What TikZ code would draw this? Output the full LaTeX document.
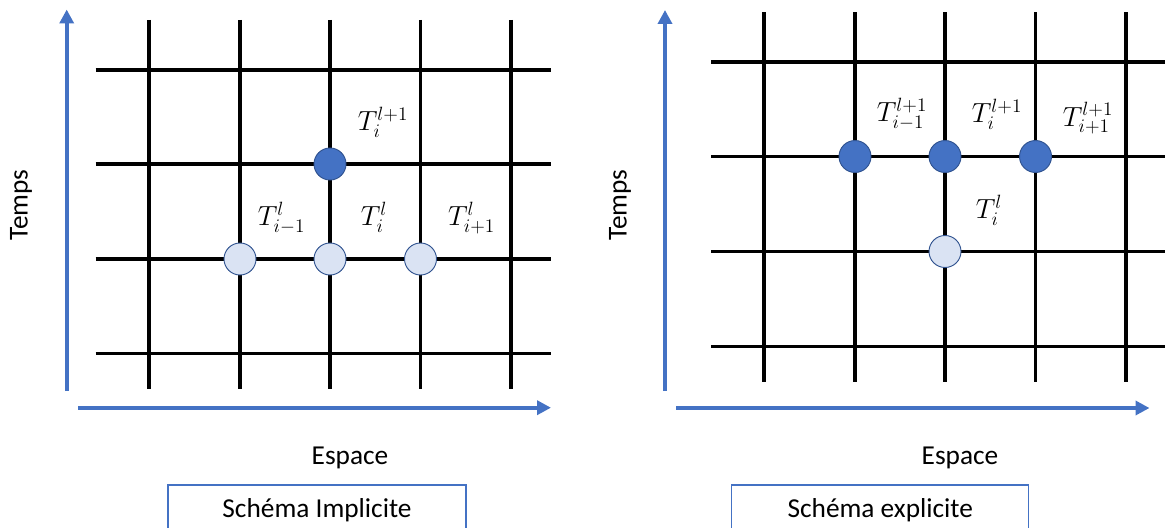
\documentclass[tikz,border=0pt]{standalone}
\usepackage[no-math]{fontspec}
\setmainfont{Carlito}
\usetikzlibrary{arrows.meta}
\definecolor{FdBlue}{RGB}{68,114,196}
\definecolor{FdEdge}{RGB}{47,82,143}
\definecolor{FdPale}{RGB}{218,227,243}
\tikzset{
  fd/grid/.style={draw=black, line width=2.6pt},
  fd/axis/.style={-{Triangle[length=10.5pt,width=10.5pt]}, draw=FdBlue, line width=3.3pt},
  fd/new/.style={circle, draw=FdEdge, line width=0.7pt, fill=FdBlue, minimum size=24pt, inner sep=0pt},
  fd/old/.style={circle, draw=FdEdge, line width=0.7pt, fill=FdPale, minimum size=24pt, inner sep=0pt},
  fd/math/.style={font=\fontsize{22}{26}\selectfont, inner sep=0pt},
  fd/label/.style={font=\fontsize{20.5}{24}\selectfont, inner sep=0pt},
  fd/frame/.style={draw=FdBlue, line width=0.8pt, fill=white, align=center,
    font=\fontsize{20.5}{24}\selectfont, minimum height=37.5pt}
}
\begin{document}
\begin{tikzpicture}[x=0.75pt,y=-0.75pt]
  \useasboundingbox (0,0) rectangle (1165,528);
  \clip (0,0) rectangle (1165,528);
  % implicit scheme
  \draw[fd/grid] (149,20) -- (149,389) (240,20) -- (240,389) (330,20) -- (330,389)
    (420.5,20) -- (420.5,389) (511,20) -- (511,389);
  \draw[fd/grid] (95.5,70) -- (551,70) (95.5,164) -- (551,164) (95.5,259) -- (551,259)
    (95.5,353.5) -- (551,353.5);
  \coordinate (impT0) at (66.7,391);
  \coordinate (impT1) at (66.7,9.5);
  \coordinate (impE0) at (78,407.7);
  \coordinate (impE1) at (551,407.7);
  \draw[fd/axis] (impT0) -- (impT1);
  \draw[fd/axis] (impE0) -- (impE1);
  \node[fd/new] (impNew) at (330,164) {};
  \node[fd/old] (impOldW) at (240,259) {};
  \node[fd/old] (impOld) at (330,259) {};
  \node[fd/old] (impOldE) at (420.5,259) {};
  \node[fd/math] (impLNew) at (383,122) {$T_i^{l+1}$};
  \node[fd/math] (impLOldW) at (281.5,218) {$T_{i-1}^{l}$};
  \node[fd/math] (impLOld) at (374,217) {$T_i^{l}$};
  \node[fd/math] (impLOldE) at (471.5,218) {$T_{i+1}^{l}$};
  \node[fd/label,rotate=90] (impTemps) at (21,205) {Temps};
  \node[fd/label] (impEspace) at (350,458) {Espace};
  \node[fd/frame,minimum width=223.5pt] (impName) at (317,510) {Schéma Implicite};
  % explicit scheme
  \draw[fd/grid] (764,12.5) -- (764,382) (855,12.5) -- (855,382) (945,12.5) -- (945,382)
    (1035.5,12.5) -- (1035.5,382) (1126,12.5) -- (1126,382);
  \draw[fd/grid] (711,62) -- (1165,62) (711,156.5) -- (1165,156.5) (711,251.5) -- (1165,251.5)
    (711,346.5) -- (1165,346.5);
  \coordinate (expT0) at (665,391);
  \coordinate (expT1) at (665,10);
  \coordinate (expE0) at (676,408);
  \coordinate (expE1) at (1149.5,408);
  \draw[fd/axis] (expT0) -- (expT1);
  \draw[fd/axis] (expE0) -- (expE1);
  \node[fd/new] (expNewW) at (855,156.5) {};
  \node[fd/new] (expNew) at (945,156.5) {};
  \node[fd/new] (expNewE) at (1035.5,156.5) {};
  \node[fd/old] (expOld) at (945,251.5) {};
  \node[fd/math] (expLNewW) at (902,114) {$T_{i-1}^{l+1}$};
  \node[fd/math] (expLNew) at (997,114) {$T_i^{l+1}$};
  \node[fd/math] (expLNewE) at (1088,118.5) {$T_{i+1}^{l+1}$};
  \node[fd/math] (expLOld) at (989,210) {$T_i^{l}$};
  \node[fd/label,rotate=90] (expTemps) at (620,205) {Temps};
  \node[fd/label] (expEspace) at (960,458) {Espace};
  \node[fd/frame,minimum width=223pt] (expName) at (880.25,510) {Schéma explicite};
\end{tikzpicture}
\end{document}
